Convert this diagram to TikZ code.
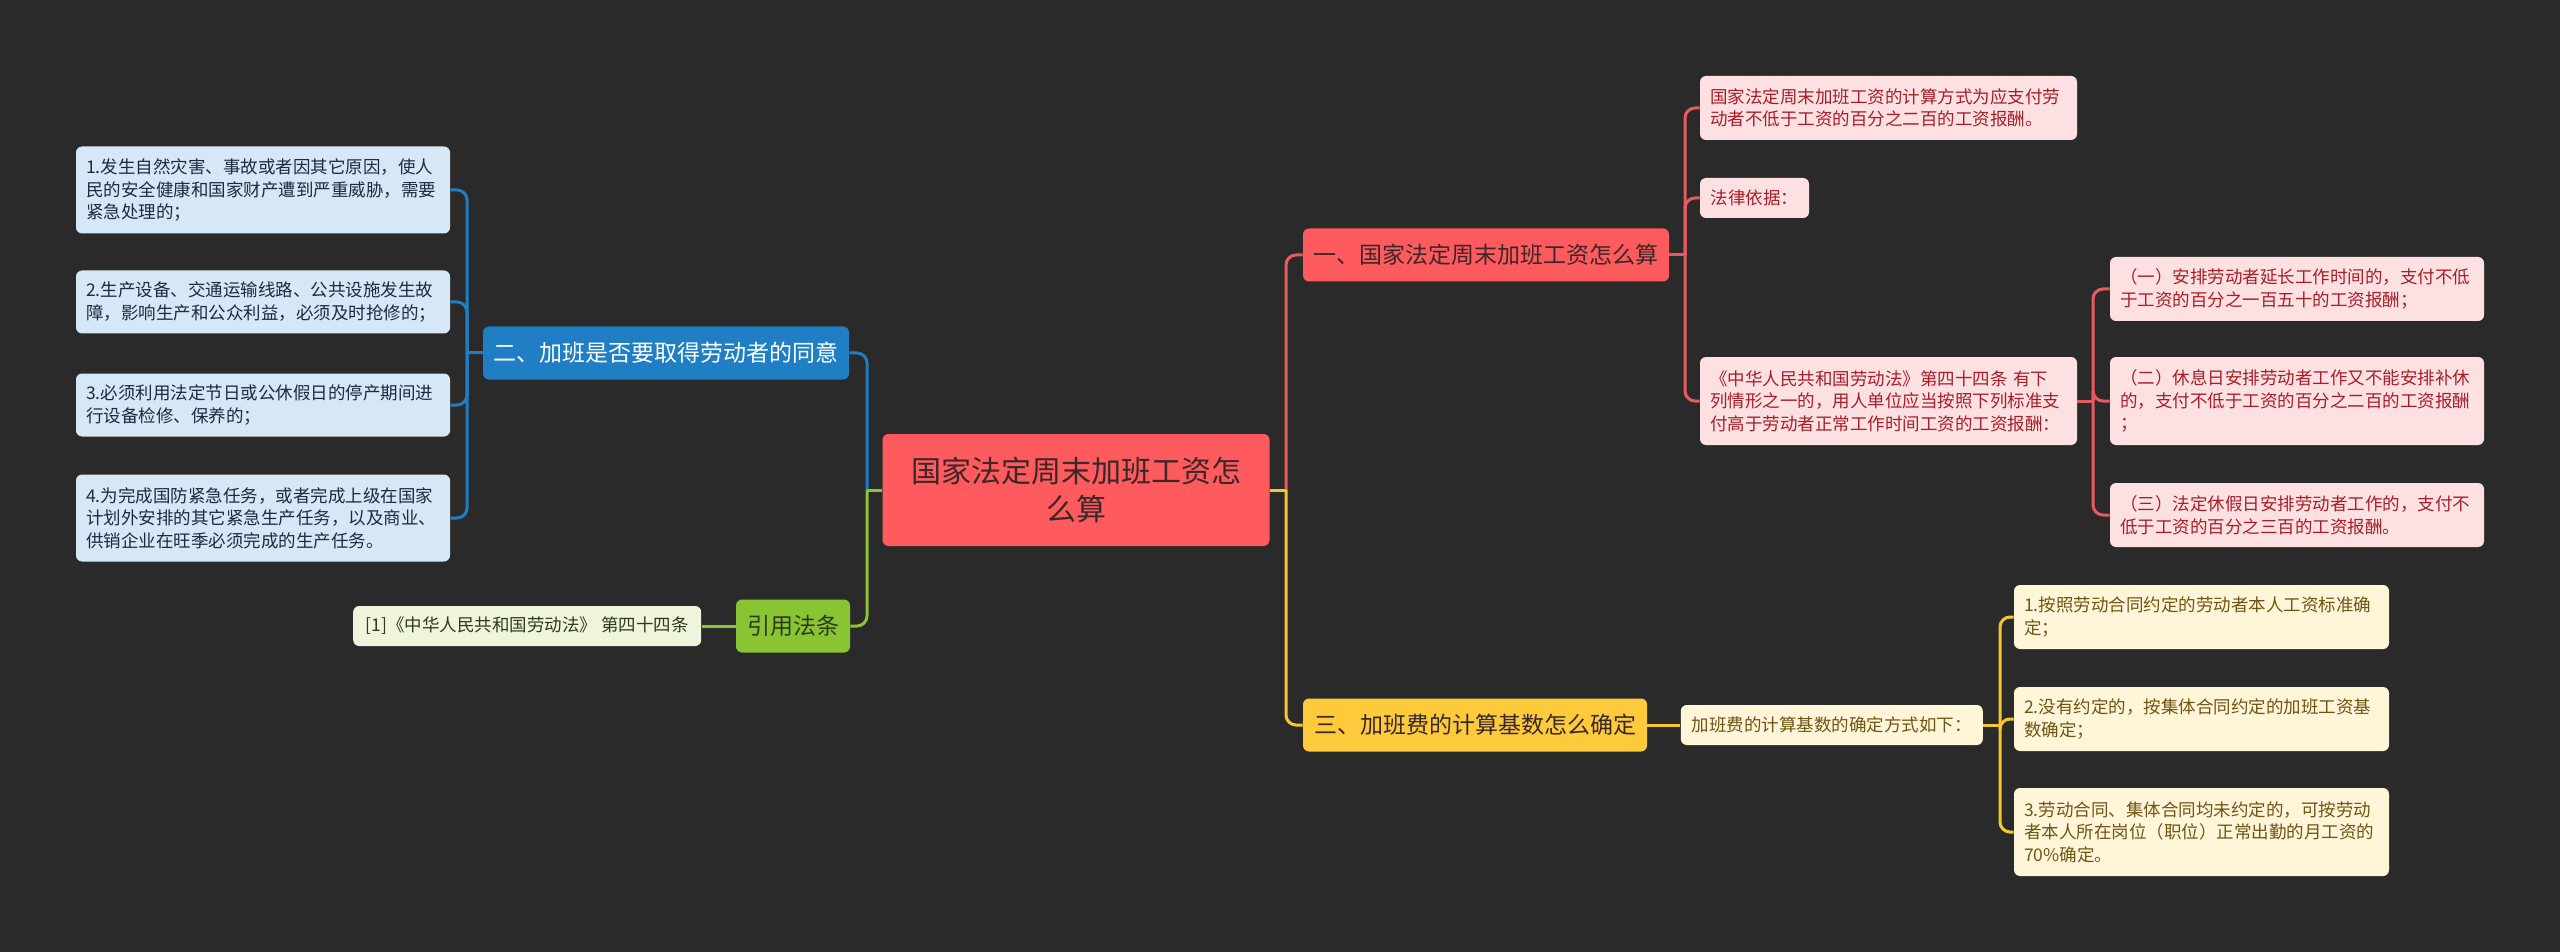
\documentclass[tikz,border=0pt]{standalone}
\usepackage{fontspec}
\setmainfont{Noto Sans CJK SC}
\usetikzlibrary{positioning}
\definecolor{bgdark}{RGB}{42,42,42}
\definecolor{redmain}{RGB}{255,90,94}
\definecolor{redlight}{RGB}{253,225,226}
\definecolor{redtext}{RGB}{165,30,40}
\definecolor{redlink}{RGB}{232,90,95}
\definecolor{bluemain}{RGB}{31,126,196}
\definecolor{bluelight}{RGB}{214,232,245}
\definecolor{bluetext}{RGB}{30,42,62}
\definecolor{greenmain}{RGB}{137,196,50}
\definecolor{greenlight}{RGB}{238,245,220}
\definecolor{greentext}{RGB}{45,58,30}
\definecolor{yelmain}{RGB}{253,202,60}
\definecolor{yellight}{RGB}{255,246,218}
\definecolor{yeltext}{RGB}{112,84,18}
\definecolor{yellink}{RGB}{245,198,48}
\definecolor{darktext}{RGB}{58,40,40}

\begin{document}
\begin{tikzpicture}[x=0.5pt,y=-0.5pt,
  box/.style={rounded corners=3pt,inner xsep=5pt,inner ysep=2pt},
  rootbox/.style={box,fill=redmain,text=darktext,align=center,text width=172pt,minimum width=193.5pt,minimum height=56pt,font=\fontsize{15}{19}\selectfont},
  branch/.style={box,minimum height=26.5pt,align=center,font=\fontsize{11.5}{14}\selectfont},
  leaf/.style={box,align=left,font=\fontsize{8.75}{11.25}\selectfont},
  tag/.style={box,align=center,minimum height=20pt,font=\fontsize{8.75}{11.25}\selectfont},
  redleaf/.style={leaf,fill=redlight,text=redtext},
  blueleaf/.style={leaf,fill=bluelight,text=bluetext},
  yelleaf/.style={leaf,fill=yellight,text=yeltext},
  redlink/.style={draw=redlink,line width=1.5pt,rounded corners=5pt},
  bluelink/.style={draw=bluemain,line width=1.5pt,rounded corners=5pt},
  greenlink/.style={draw=greenmain,line width=1.5pt,rounded corners=5pt},
  yellink/.style={draw=yellink,line width=1.5pt,rounded corners=5pt}]
\useasboundingbox[fill=bgdark] (0,0) rectangle (2560,952);
\node[rootbox] (root) at (1076,490) {国家法定周末加班工资怎\\么算};
\node[branch,fill=redmain,text=darktext,minimum width=183pt] (wage) at (1486,255) {一、国家法定周末加班工资怎么算};
\node[branch,fill=bluemain,text=white,minimum width=183pt] (consent) at (666,353) {二、加班是否要取得劳动者的同意};
\node[branch,fill=yelmain,text=darktext,minimum width=172pt] (base) at (1475,725) {三、加班费的计算基数怎么确定};
\node[branch,fill=greenmain,text=greentext,minimum width=57pt] (cite) at (793,626) {引用法条};
\node[tag,fill=greenlight,text=greentext,minimum width=174pt,left=17pt of cite] (law) {[1]《中华人民共和国劳动法》 第四十四条};
\node[redleaf,text width=178.5pt,minimum height=32pt] (calc) at (1888.5,108) {国家法定周末加班工资的计算方式为应支付劳\\动者不低于工资的百分之二百的工资报酬。};
\node[tag,fill=redlight,text=redtext,minimum width=54.5pt] (basis) at (1754.5,198) {法律依据：};
\node[redleaf,text width=178.5pt,minimum height=44pt] (art) at (1888.5,401) {《中华人民共和国劳动法》第四十四条 有下\\列情形之一的，用人单位应当按照下列标准支\\付高于劳动者正常工作时间工资的工资报酬：};
\node[redleaf,text width=177pt,minimum height=32pt] (caseA) at (2297,289) {（一）安排劳动者延长工作时间的，支付不低\\于工资的百分之一百五十的工资报酬；};
\node[redleaf,text width=177pt,minimum height=44pt] (caseB) at (2297,401) {（二）休息日安排劳动者工作又不能安排补休\\的，支付不低于工资的百分之二百的工资报酬\\；};
\node[redleaf,text width=177pt,minimum height=32pt] (caseC) at (2297,515) {（三）法定休假日安排劳动者工作的，支付不\\低于工资的百分之三百的工资报酬。};
\node[blueleaf,text width=177pt,minimum height=43.5pt] (urgA) at (263,190) {1.发生自然灾害、事故或者因其它原因，使人\\民的安全健康和国家财产遭到严重威胁，需要\\紧急处理的；};
\node[blueleaf,text width=177pt,minimum height=31.5pt] (urgB) at (263,302) {2.生产设备、交通运输线路、公共设施发生故\\障，影响生产和公众利益，必须及时抢修的；};
\node[blueleaf,text width=177pt,minimum height=31.5pt] (urgC) at (263,405) {3.必须利用法定节日或公休假日的停产期间进\\行设备检修、保养的；};
\node[blueleaf,text width=177pt,minimum height=43.5pt] (urgD) at (263,518) {4.为完成国防紧急任务，或者完成上级在国家\\计划外安排的其它紧急生产任务，以及商业、\\供销企业在旺季必须完成的生产任务。};
\node[tag,fill=yellight,text=yeltext,minimum width=151pt,right=16.5pt of base] (how) {加班费的计算基数的确定方式如下：};
\node[yelleaf,text width=177.5pt,minimum height=32pt] (ruleA) at (2201.5,617) {1.按照劳动合同约定的劳动者本人工资标准确\\定；};
\node[yelleaf,text width=177.5pt,minimum height=32pt] (ruleB) at (2201.5,719) {2.没有约定的，按集体合同约定的加班工资基\\数确定；};
\node[yelleaf,text width=177.5pt,minimum height=44pt] (ruleC) at (2201.5,832) {3.劳动合同、集体合同均未约定的，可按劳动\\者本人所在岗位（职位）正常出勤的月工资的\\70\%确定。};
\coordinate (rtr) at (1286,0);
\coordinate (ltr) at (867,0);
\coordinate (wtr) at (1685,0);
\coordinate (atr) at (2093,0);
\coordinate (htr) at (2000,0);
\coordinate (ctr) at (467,0);
\draw[redlink] (rtr |- root.east) |- (wage.west);
\draw[yellink] (root.east) -- (rtr |- root.east);
\draw[yellink] (rtr |- root.east) |- (base.west);
\draw[bluelink] (ltr |- root.west) |- (consent.east);
\draw[greenlink] (root.west) -- (ltr |- root.west);
\draw[greenlink] (ltr |- root.west) |- (cite.east);
\draw[redlink] (wage.east) -- (wtr |- wage.east);
\draw[redlink] (wtr |- wage.east) |- (calc.west);
\draw[redlink] (wtr |- wage.east) |- (basis.west);
\draw[redlink] (wtr |- wage.east) |- (art.west);
\draw[redlink] (art.east) -- (atr |- art.east);
\draw[redlink] (atr |- art.east) |- (caseA.west);
\draw[redlink] (atr |- art.east) |- (caseB.west);
\draw[redlink] (atr |- art.east) |- (caseC.west);
\draw[bluelink] (consent.west) -- (ctr |- consent.west);
\draw[bluelink] (ctr |- consent.west) |- (urgA.east);
\draw[bluelink] (ctr |- consent.west) |- (urgB.east);
\draw[bluelink] (ctr |- consent.west) |- (urgC.east);
\draw[bluelink] (ctr |- consent.west) |- (urgD.east);
\draw[greenlink] (cite.west) -- (law.east);
\draw[yellink] (base.east) -- (how.west);
\draw[yellink] (how.east) -- (htr |- how.east);
\draw[yellink] (htr |- how.east) |- (ruleA.west);
\draw[yellink] (htr |- how.east) |- (ruleB.west);
\draw[yellink] (htr |- how.east) |- (ruleC.west);
\end{tikzpicture}
\end{document}
